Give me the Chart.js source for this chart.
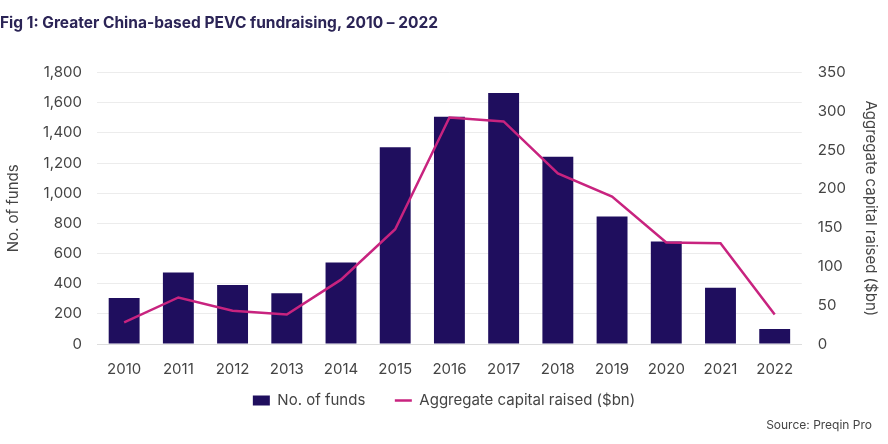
<!DOCTYPE html>
<html>
<head>
<meta charset="utf-8">
<script src="https://cdn.jsdelivr.net/npm/chart.js@4"></script>
<style>
  html, body { margin: 0; padding: 0; background: #fff; }
  #wrap { width: 888px; height: 444px; position: relative; }
</style>
</head>
<body>
<div id="wrap"><canvas id="fundChart"></canvas></div>
<script>
const years = ['2010', '2011', '2012', '2013', '2014', '2015', '2016', '2017', '2018', '2019', '2020', '2021', '2022'];
const fundCounts = [305, 475, 392, 336, 540, 1305, 1508, 1665, 1242, 845, 680, 373, 100];
const capitalRaised = [28, 60, 43, 38, 83, 148, 292, 287, 220, 190, 131, 130, 38];
const sourceNote = 'Source: Preqin Pro';

const navy = '#1f0e5e';
const magenta = '#c8237f';
const textGrey = '#444';

Chart.defaults.font.family = 'Inter, "Open Sans", sans-serif';
Chart.defaults.font.size = 15;
Chart.defaults.color = textGrey;

// source line, bottom right corner
const sourcePlugin = {
  id: 'sourceNote',
  afterDraw(chart) {
    const ctx = chart.ctx;
    ctx.save();
    ctx.font = '12px Inter, "Open Sans", sans-serif';
    ctx.fillStyle = '#444';
    ctx.textAlign = 'right';
    ctx.textBaseline = 'middle';
    ctx.fillText(sourceNote, chart.width - 16, chart.height - 19);
    ctx.restore();
  }
};

const data = {
  labels: years,
  datasets: [{
    type: 'line',
    label: 'Aggregate capital raised ($bn)',
    data: capitalRaised,
    borderColor: magenta,
    backgroundColor: magenta,
    borderWidth: 2.5,
    pointRadius: 0,
    tension: 0,
    yAxisID: 'yRight',
    pointStyle: 'line',
    order: 0
  }, {
    type: 'bar',
    label: 'No. of funds',
    data: fundCounts,
    backgroundColor: navy,
    barPercentage: 0.57,
    categoryPercentage: 1,
    yAxisID: 'yLeft',
    pointStyle: 'rect',
    order: 1
  }]
};

const config = {
  data: data,
  options: {
    responsive: true,
    maintainAspectRatio: false,
    animation: false,
    layout: {
      padding: { left: 0, right: 0, top: 0, bottom: 26 }
    },
    scales: {
      x: {
        grid: { display: false },
        border: { color: '#ddd' },
        ticks: { padding: 8 }
      },
      yLeft: {
        position: 'left',
        min: 0,
        max: 1800,
        ticks: {
          stepSize: 200,
          padding: 15,
          callback: v => v.toLocaleString('en-US')
        },
        grid: { color: '#ececec', drawTicks: false },
        border: { display: false },
        title: { display: true, text: 'No. of funds', padding: { top: 4, bottom: 6 } }
      },
      yRight: {
        position: 'right',
        min: 0,
        max: 350,
        ticks: { stepSize: 50, padding: 16 },
        grid: { display: false, drawTicks: false },
        border: { display: false },
        title: { display: true, text: 'Aggregate capital raised ($bn)', padding: { top: 8, bottom: 0 } }
      }
    },
    plugins: {
      title: {
        display: true,
        text: 'Fig 1: Greater China-based PEVC fundraising, 2010 – 2022',
        align: 'start',
        color: '#2b2456',
        font: { size: 15.5, weight: 'bold' },
        padding: { top: 14, bottom: 40 }
      },
      legend: {
        position: 'bottom',
        labels: {
          usePointStyle: true,
          pointStyleWidth: 17,
          boxHeight: 10,
          padding: 7,
          color: textGrey,
          sort: (a, b) => b.datasetIndex - a.datasetIndex,
          generateLabels(chart) {
            const items = Chart.defaults.plugins.legend.labels.generateLabels(chart);
            // wider gap after the first entry, as in the source figure
            items.forEach(item => {
              if (item.datasetIndex === 1) item.text += '\u2003\u2002';
            });
            return items;
          }
        }
      },
      tooltip: { enabled: false }
    }
  },
  plugins: [sourcePlugin]
};

new Chart(document.getElementById('fundChart'), config);
</script>
</body>
</html>
